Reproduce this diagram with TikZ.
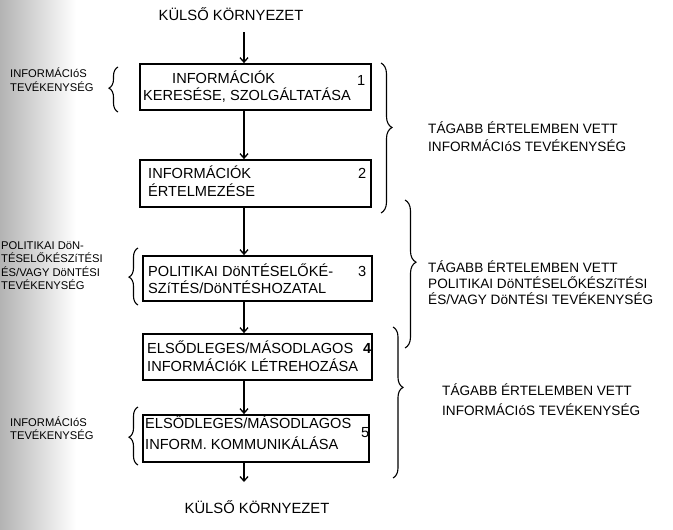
\documentclass[tikz,border=0pt]{standalone}
\usepackage{fontspec}
\setmainfont{Liberation Sans}
\usetikzlibrary{arrows.meta,decorations.pathreplacing}
\begin{document}
\begin{tikzpicture}[x=1pt,y=-1pt,
  stepbox/.style={draw,line width=1.8pt,rectangle,inner sep=0pt},
  flow/.style={line width=1.7pt,-{Straight Barb[length=4.5pt,width=8pt,line width=1.3pt]}},
  boxtext/.style={anchor=base west,inner sep=0pt,font=\fontsize{14.6}{16}\selectfont},
  numtext/.style={anchor=base west,inner sep=0pt,font=\fontsize{14.6}{16}\selectfont},
  sidetext/.style={anchor=base west,inner sep=0pt,font=\fontsize{11.2}{13}\selectfont},
  widetext/.style={anchor=base west,inner sep=0pt,font=\fontsize{13.6}{16}\selectfont},
  envtext/.style={anchor=base,inner sep=0pt,font=\fontsize{14.8}{16}\selectfont},
  curly/.style={line width=1.1pt,decorate,decoration={brace,amplitude=#1}},
  curly/.default=8pt
]
\useasboundingbox (0,0) rectangle (673,530);
% scanned page edge
\shade[left color=black!30,right color=white,draw=none] (0,0) rectangle (76,530);

% environment labels
\node[envtext] (envtop) at (231,20) {KÜLSŐ KÖRNYEZET};
\node[envtext] (envbot) at (257,513) {KÜLSŐ KÖRNYEZET};

% process boxes
\node[stepbox,minimum width=231pt,minimum height=46pt] (b1) at (255.5,87) {};
\node[stepbox,minimum width=231pt,minimum height=47pt] (b2) at (255.5,183.5) {};
\node[stepbox,minimum width=229pt,minimum height=45pt] (b3) at (257.5,278.5) {};
\node[stepbox,minimum width=229pt,minimum height=46pt] (b4) at (257.5,357) {};
\node[stepbox,minimum width=226pt,minimum height=47pt] (b5) at (256,438.5) {};

% box texts
\node[boxtext] (b1l1) at (172,83) {INFORMÁCIÓK};
\node[boxtext] (b1l2) at (143,100) {KERESÉSE, SZOLGÁLTATÁSA};
\node[numtext] (n1) at (357,85) {1};
\node[boxtext] (b2l1) at (148,178) {INFORMÁCIÓK};
\node[boxtext] (b2l2) at (148,196) {ÉRTELMEZÉSE};
\node[numtext] (n2) at (358,178) {2};
\node[boxtext] (b3l1) at (148,276) {POLITIKAI DöNTÉSELŐKÉ-};
\node[boxtext] (b3l2) at (148,293) {SZíTÉS/DöNTÉSHOZATAL};
\node[numtext] (n3) at (358,276) {3};
\node[boxtext] (b4l1) at (147,353) {ELSŐDLEGES/MÁSODLAGOS};
\node[boxtext] (b4l2) at (147,371) {INFORMÁCIóK LÉTREHOZÁSA};
\node[numtext,font=\fontsize{14.6}{16}\selectfont\bfseries] (n4) at (363,353) {4};
\node[boxtext] (b5l1) at (145,428) {ELSŐDLEGES/MÁSODLAGOS};
\node[boxtext] (b5l2) at (145,449) {INFORM. KOMMUNIKÁLÁSA};
\node[numtext] (n5) at (361,437) {5};

% flow arrows
\coordinate (ax) at (244,0);
\coordinate (inflow) at (244,32);
\coordinate (outflow) at (244,482);
\draw[flow] (inflow) -- (b1.north -| ax);
\draw[flow] (b1.south -| ax) -- (b2.north -| ax);
\draw[flow] (b2.south -| ax) -- (b3.north -| ax);
\draw[flow] (b3.south -| ax) -- (b4.north -| ax);
\draw[flow] (b4.south -| ax) -- (b5.north -| ax);
\draw[flow] (b5.south -| ax) -- (outflow);

% left-hand braces and labels
\coordinate (lb1a) at (118,112); \coordinate (lb1b) at (118,67);
\coordinate (lb2a) at (138,305); \coordinate (lb2b) at (138,248);
\coordinate (lb3a) at (138,465); \coordinate (lb3b) at (138,407);
\draw[curly=9pt,decoration={aspect=0.53}] (lb1a) -- (lb1b);
\draw[curly=9pt,decoration={aspect=0.49}] (lb2a) -- (lb2b);
\draw[curly=9pt,decoration={aspect=0.48}] (lb3a) -- (lb3b);

\node[sidetext] (l1a) at (10,77) {INFORMÁCIóS};
\node[sidetext] (l1b) at (10,91) {TEVÉKENYSÉG};
\node[sidetext] (l2a) at (1,249) {POLITIKAI DöN-};
\node[sidetext] (l2b) at (1,262) {TÉSELŐKÉSZíTÉSI};
\node[sidetext] (l2c) at (1,276) {ÉS/VAGY DöNTÉSI};
\node[sidetext] (l2d) at (1,289) {TEVÉKENYSÉG};
\node[sidetext] (l3a) at (10,426) {INFORMÁCIóS};
\node[sidetext] (l3b) at (10,439) {TEVÉKENYSÉG};

% right-hand braces and labels
\coordinate (rb1a) at (381,63); \coordinate (rb1b) at (381,213);
\coordinate (rb2a) at (405,200); \coordinate (rb2b) at (405,348);
\coordinate (rb3a) at (393,327); \coordinate (rb3b) at (393,478);
\draw[curly=11pt,decoration={aspect=0.43}] (rb1a) -- (rb1b);
\draw[curly=11pt,decoration={aspect=0.42}] (rb2a) -- (rb2b);
\draw[curly=10pt,decoration={aspect=0.40}] (rb3a) -- (rb3b);

\node[widetext] (r1a) at (428,133) {TÁGABB ÉRTELEMBEN VETT};
\node[widetext] (r1b) at (428,151) {INFORMÁCIóS TEVÉKENYSÉG};
\node[widetext] (r2a) at (428,272) {TÁGABB ÉRTELEMBEN VETT};
\node[widetext] (r2b) at (428,288) {POLITIKAI DöNTÉSELŐKÉSZíTÉSI};
\node[widetext] (r2c) at (428,304) {ÉS/VAGY DöNTÉSI TEVÉKENYSÉG};
\node[widetext] (r3a) at (442,395) {TÁGABB ÉRTELEMBEN VETT};
\node[widetext] (r3b) at (442,415) {INFORMÁCIóS TEVÉKENYSÉG};
\end{tikzpicture}
\end{document}
